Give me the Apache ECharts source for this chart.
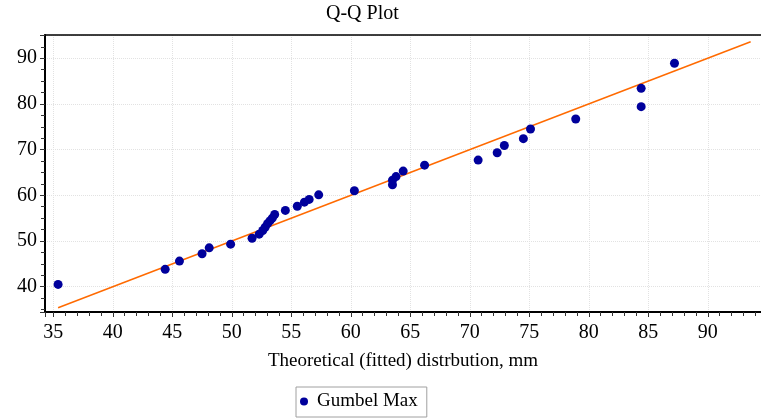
<!DOCTYPE html>
<html>
<head>
<meta charset="utf-8">
<script src="https://cdn.jsdelivr.net/npm/echarts@6/dist/echarts.min.js"></script>
<style>html,body{margin:0;padding:0;background:#fff}#c{width:761px;height:419px}</style>
</head>
<body>
<div id="c"></div>
<script>
// Theoretical (fitted) quantiles, mm
const theoretical = [35.4, 44.4, 45.6, 47.5, 48.1, 49.9, 51.7, 52.3, 52.6, 52.8, 53.0, 53.2, 53.4, 53.6, 54.5, 55.5, 56.1, 56.5, 57.3, 60.3, 63.5, 63.5, 63.8, 64.4, 66.2, 70.7, 72.3, 72.9, 74.5, 75.1, 78.9, 84.4, 84.4, 87.2];
// Observed (sorted) values, mm
const observed = [40.5, 43.8, 45.6, 47.2, 48.5, 49.3, 50.6, 51.5, 52.3, 53.0, 53.8, 54.4, 55.0, 55.8, 56.7, 57.6, 58.5, 59.1, 60.1, 61.0, 62.3, 63.3, 64.1, 65.3, 66.6, 67.7, 69.3, 70.9, 72.4, 74.5, 76.7, 79.4, 83.4, 88.9];
// Reference line y = x endpoints
const refLine = [35.4, 93.6];
const seriesName = 'Gumbel Max';
const titleText = 'Q-Q Plot';
const xAxisName = 'Theoretical (fitted) distrbution, mm';

const font = '"Liberation Serif", "Times New Roman", serif';
const chart = echarts.init(document.getElementById('c'), null, {renderer: 'canvas'});
const scatterData = theoretical.map((x, i) => [x, observed[i]]);
const lineData = refLine.map(v => [v, v]);

chart.setOption({
  animation: false,
  backgroundColor: '#fff',
  title: {
    text: titleText, left: 326, top: 4, padding: 0,
    textStyle: {fontFamily: font, fontSize: 20, fontWeight: 'normal', color: '#000'}
  },
  grid: {left: 45, right: 0, top: 35, bottom: 107, containLabel: false},
  legend: {
    data: [seriesName], left: 296, top: 387,
    padding: [5, 9, 6, 4],
    itemWidth: 16, itemHeight: 8, itemGap: 5,
    icon: 'circle',
    borderColor: '#a0a0a0', borderWidth: 1,
    textStyle: {fontFamily: font, fontSize: 19, color: '#000'}
  },
  xAxis: [{
    type: 'value', min: 34.3, max: 94.47, minInterval: 5, maxInterval: 5,
    name: xAxisName, nameLocation: 'middle', nameGap: 40,
    nameTextStyle: {fontFamily: font, fontSize: 19, color: '#000'},
    axisLine: {show: true, onZero: false, lineStyle: {color: '#000', width: 2}},
    axisTick: {show: true, inside: false, length: 5, lineStyle: {color: '#333'}},
    minorTick: {show: true, splitNumber: 5, length: 4, lineStyle: {color: '#333'}},
    axisLabel: {show: true, margin: 11, showMinLabel: false, showMaxLabel: false, fontFamily: font, fontSize: 20, color: '#000'},
    splitLine: {show: true, lineStyle: {color: '#e2e2e2', type: 'dotted', width: 1}},
    minorSplitLine: {show: false}
  }, {
    type: 'value', position: 'top', min: 34.3, max: 94.47,
    axisLine: {show: true, onZero: false, lineStyle: {color: '#000', width: 1.5}},
    axisTick: {show: false}, axisLabel: {show: false}, splitLine: {show: false}
  }],
  yAxis: {
    type: 'value', min: 34.46, max: 95.08, minInterval: 10, maxInterval: 10,
    axisLine: {show: true, onZero: false, lineStyle: {color: '#000', width: 2}},
    axisTick: {show: true, inside: false, length: 5, lineStyle: {color: '#333'}},
    minorTick: {show: true, splitNumber: 4, length: 4, lineStyle: {color: '#333'}},
    axisLabel: {show: true, margin: 8, showMinLabel: false, showMaxLabel: false, fontFamily: font, fontSize: 20, color: '#000'},
    splitLine: {show: true, lineStyle: {color: '#e2e2e2', type: 'dotted', width: 1}}
  },
  series: [{
    name: 'fit', type: 'line', data: lineData, showSymbol: false, symbol: 'none',
    lineStyle: {color: '#ff6a00', width: 1.5}, silent: true, z: 2
  }, {
    name: seriesName, type: 'scatter', data: scatterData, symbol: 'circle', symbolSize: 9,
    itemStyle: {color: '#00009c', opacity: 1}, z: 3
  }]
});
</script>
</body>
</html>
